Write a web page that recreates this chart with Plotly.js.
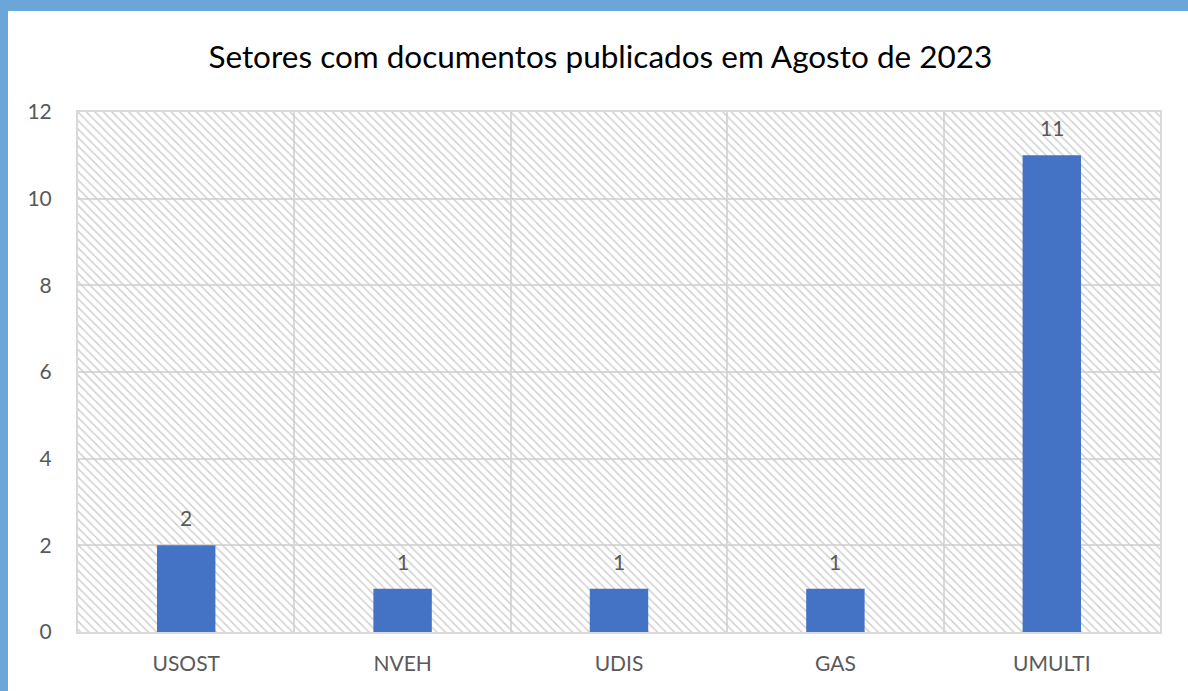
<!DOCTYPE html>
<html>
<head>
<meta charset="utf-8">
<script src="https://cdn.plot.ly/plotly-3.0.1.min.js"></script>
<style>
    html, body { margin: 0; padding: 0; width: 1188px; height: 691px; overflow: hidden; background: #6aa7d8; }
    #chart { position: absolute; left: 8px; top: 11px; width: 1180px; height: 680px; background: #fff; }
</style>
</head>
<body>
<div id="chart"></div>
<script>
    // Setores com documentos publicados
    const setores = ['USOST', 'NVEH', 'UDIS', 'GAS', 'UMULTI'];
    const documentos = [2, 1, 1, 1, 11];
    const yMax = 12;

    const fonte = 'Lato, sans-serif';
    const cinza = '#595959';

    // hatched plot background, one full-width cell per category (transparent so the grid shows)
    const fundo = {
        x: setores,
        y: setores.map(() => yMax),
        type: 'bar',
        width: 1,
        marker: {
            color: 'rgba(0,0,0,0)',
            line: { width: 0 },
            pattern: { shape: '\\', fgcolor: '#cfcfcf', bgcolor: 'rgba(0,0,0,0)', size: 6, solidity: 0.25 }
        },
        hoverinfo: 'skip',
        showlegend: false
    };

    const barras = {
        x: setores,
        y: documentos,
        type: 'bar',
        width: 0.27,
        marker: { color: '#4472c4' },
        showlegend: false
    };

    // value labels above each bar
    const rotulos = setores.map((s, i) => ({
        x: s,
        y: documentos[i],
        text: String(documentos[i]),
        showarrow: false,
        yanchor: 'bottom',
        yshift: 13,
        font: { family: fonte, size: 21, color: cinza }
    }));

    Plotly.newPlot('chart', [fundo, barras], {
        title: {
            text: 'Setores com documentos publicados em Agosto de 2023',
            font: { family: fonte, size: 31.5, color: '#000000' },
            x: 0.502,
            xanchor: 'center',
            y: 0.932,
            yanchor: 'middle'
        },
        barmode: 'overlay',
        width: 1180,
        height: 680,
        margin: { t: 101, b: 59, l: 70, r: 28 },
        paper_bgcolor: '#ffffff',
        plot_bgcolor: '#ffffff',
        annotations: rotulos,
        xaxis: {
            tickson: 'boundaries',
            ticks: '',
            showgrid: true,
            gridcolor: '#d9d9d9',
            gridwidth: 2,
            showline: true,
            mirror: true,
            linecolor: '#d9d9d9',
            linewidth: 2,
            ticklabelstandoff: 12,
            tickfont: { family: fonte, size: 21, color: cinza }
        },
        yaxis: {
            range: [0, yMax],
            dtick: 2,
            showgrid: true,
            gridcolor: '#d9d9d9',
            gridwidth: 2,
            zeroline: false,
            showline: true,
            mirror: true,
            linecolor: '#d9d9d9',
            linewidth: 2,
            ticks: '',
            ticklabelstandoff: 20,
            tickfont: { family: fonte, size: 21, color: cinza }
        }
    }, { displayModeBar: false, staticPlot: true });
</script>
</body>
</html>
